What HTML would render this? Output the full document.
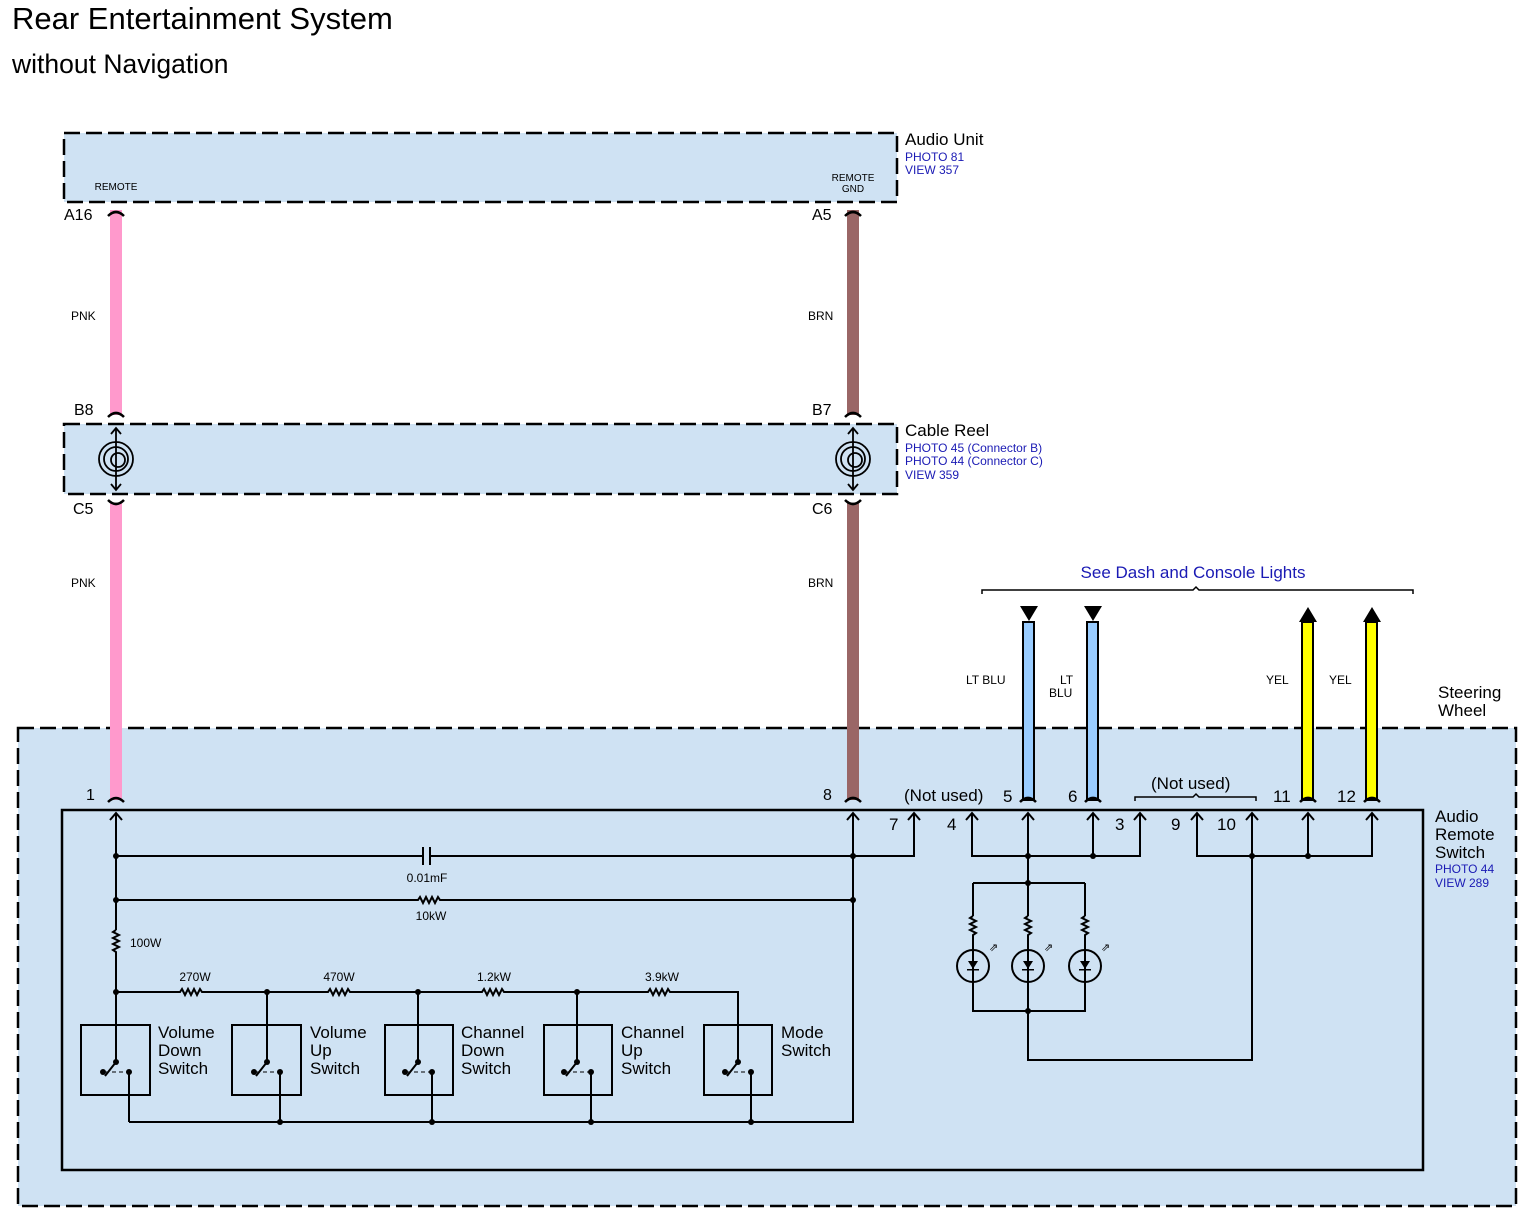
<!DOCTYPE html>
<html><head><meta charset="utf-8"><style>
html,body{margin:0;padding:0;background:#fff}
svg{display:block;font-family:"Liberation Sans",Arial,sans-serif}
</style></head><body>
<svg width="1536" height="1223" viewBox="0 0 1536 1223" xmlns="http://www.w3.org/2000/svg">
<text x="12" y="29" font-size="31" fill="#000">Rear Entertainment System</text>
<text x="12" y="73" font-size="26.5" fill="#000">without Navigation</text>

<rect x="64" y="133" width="833" height="69" fill="#cfe2f3" stroke="#000" stroke-width="2.5" stroke-dasharray="16,6"/>
<text x="905" y="145" font-size="17">Audio Unit</text>
<text x="905" y="161" font-size="12" fill="#1a1ab4">PHOTO 81</text>
<text x="905" y="174" font-size="12" fill="#1a1ab4">VIEW 357</text>
<text x="116" y="190" font-size="10" text-anchor="middle">REMOTE</text>
<text x="853" y="181" font-size="10" text-anchor="middle">REMOTE</text>
<text x="853" y="192" font-size="10" text-anchor="middle">GND</text>

<rect x="64" y="424" width="833" height="70" fill="#cfe2f3" stroke="#000" stroke-width="2.5" stroke-dasharray="16,6"/>
<text x="905" y="436" font-size="17">Cable Reel</text>
<text x="905" y="452" font-size="12" fill="#1a1ab4">PHOTO 45 (Connector B)</text>
<text x="905" y="465" font-size="12" fill="#1a1ab4">PHOTO 44 (Connector C)</text>
<text x="905" y="479" font-size="12" fill="#1a1ab4">VIEW 359</text>

<rect x="18" y="728" width="1498" height="478" fill="#cfe2f3" stroke="#000" stroke-width="2.5" stroke-dasharray="16,6"/>
<text x="1438" y="698" font-size="17">Steering</text>
<text x="1438" y="716" font-size="17">Wheel</text>
<rect x="62" y="810" width="1361" height="360" fill="none" stroke="#000" stroke-width="2.5"/>
<text x="1435" y="822" font-size="17">Audio</text>
<text x="1435" y="840" font-size="17">Remote</text>
<text x="1435" y="858" font-size="17">Switch</text>
<text x="1435" y="873" font-size="12" fill="#1a1ab4">PHOTO 44</text>
<text x="1435" y="887" font-size="12" fill="#1a1ab4">VIEW 289</text>

<g>
<rect x="110" y="210" width="12" height="205" fill="#ff99cc"/>
<rect x="110" y="503" width="12" height="297" fill="#ff99cc"/>
<rect x="847" y="210" width="12" height="205" fill="#9a6666"/>
<rect x="847" y="503" width="12" height="297" fill="#9a6666"/>
</g>
<g fill="none" stroke="#000" stroke-width="2.5">
<path d="M108 216 Q116 208 124 216"/><path d="M845 216 Q853 208 861 216"/>
<path d="M108 417 Q116 409 124 417"/><path d="M845 417 Q853 409 861 417"/>
<path d="M108 500 Q116 508 124 500"/><path d="M845 500 Q853 508 861 500"/>
<path d="M108 802 Q116 794 124 802"/><path d="M845 802 Q853 794 861 802"/>
</g>
<g font-size="16">
<text x="64" y="220">A16</text><text x="812" y="220">A5</text>
<text x="74" y="415">B8</text><text x="812" y="415">B7</text>
<text x="73" y="514">C5</text><text x="812" y="514">C6</text>
<text x="86" y="800">1</text><text x="823" y="800">8</text>
</g>
<g font-size="12">
<text x="71" y="320">PNK</text><text x="808" y="320">BRN</text>
<text x="71" y="587">PNK</text><text x="808" y="587">BRN</text>
</g>

<g fill="none" stroke="#000" stroke-width="1.8">
<line x1="116" y1="428" x2="116" y2="490"/><path d="M111 434 L116 428 L121 434 M111 484 L116 490 L121 484"/>
<circle cx="116" cy="459" r="17"/><circle cx="116" cy="459" r="12"/><circle cx="118" cy="460" r="7"/>
<line x1="853" y1="428" x2="853" y2="490"/><path d="M848 434 L853 428 L858 434 M848 484 L853 490 L858 484"/>
<circle cx="853" cy="459" r="17"/><circle cx="853" cy="459" r="12"/><circle cx="855" cy="460" r="7"/>
</g>

<rect x="1023" y="622" width="11" height="178" fill="#99ccff" stroke="#000" stroke-width="2"/>
<rect x="1087" y="622" width="11" height="178" fill="#99ccff" stroke="#000" stroke-width="2"/>
<rect x="1302" y="622" width="11" height="178" fill="#ffff00" stroke="#000" stroke-width="2"/>
<rect x="1366" y="622" width="11" height="178" fill="#ffff00" stroke="#000" stroke-width="2"/>
<path d="M1020 606 L1038 606 L1029 621Z M1084 606 L1102 606 L1093 621Z M1299 622 L1317 622 L1308 607Z M1363 622 L1381 622 L1372 607Z" fill="#000"/>
<g fill="none" stroke="#000" stroke-width="2.5">
<path d="M1020 802 Q1028 794 1036 802"/><path d="M1085 802 Q1093 794 1101 802"/>
<path d="M1300 802 Q1308 794 1316 802"/><path d="M1364 802 Q1372 794 1380 802"/>
</g>
<g fill="none" stroke="#000" stroke-width="1.5">
<path d="M982 594 L982 590 L1193 590 L1196 587 L1199 590 L1413 590 L1413 594"/>
<path d="M1135 801 L1135 797 L1193 797 L1196 794 L1199 797 L1256 797 L1256 801"/>
</g>
<text x="1193" y="578" font-size="17" fill="#1a1ab4" text-anchor="middle">See Dash and Console Lights</text>
<g font-size="12">
<text x="966" y="684">LT BLU</text><text x="1060" y="684">LT</text><text x="1049" y="697">BLU</text>
<text x="1266" y="684">YEL</text><text x="1329" y="684">YEL</text>
</g>
<g font-size="17">
<text x="904" y="801">(Not used)</text><text x="1151" y="789">(Not used)</text>
<text x="1003" y="802">5</text><text x="1068" y="802">6</text><text x="1273" y="802">11</text><text x="1337" y="802">12</text>
<text x="889" y="830">7</text><text x="947" y="830">4</text><text x="1115" y="830">3</text><text x="1171" y="830">9</text><text x="1217" y="830">10</text>
</g>

<g fill="none" stroke="#000" stroke-width="2">
<path d="M110 820 L116 813 L122 820 M847 820 L853 813 L859 820 M908 820 L914 813 L920 820 M966 820 L972 813 L978 820 M1022 820 L1028 813 L1034 820 M1087 820 L1093 813 L1099 820 M1134 820 L1140 813 L1146 820 M1191 820 L1197 813 L1203 820 M1246 820 L1252 813 L1258 820 M1302 820 L1308 813 L1314 820 M1366 820 L1372 813 L1378 820"/>
<path d="M116 813 L116 930 M116 954 L116 1062"/>
<path d="M116 930 l-3 2 l6 3 l-6 3 l6 3 l-6 3 l6 3 l-6 3 l3 2 L116 954"/>
<path d="M116 856 L423 856 M430 856 L914 856 L914 813"/>
<path d="M423 847 L423 865 M430 847 L430 865"/>
<path d="M116 900 L418 900 l2 -3 l3 6 l3 -6 l3 6 l3 -6 l3 6 l3 -6 l2 3 L853 900"/>
<path d="M853 813 L853 1122 L129 1122"/>
<path d="M116 992 L180 992 l2 -3 l3 6 l3 -6 l3 6 l3 -6 l3 6 l3 -6 l2 3 L328 992 l2 -3 l3 6 l3 -6 l3 6 l3 -6 l3 6 l3 -6 l2 3 L482 992 l2 -3 l3 6 l3 -6 l3 6 l3 -6 l3 6 l3 -6 l2 3 L648 992 l2 -3 l3 6 l3 -6 l3 6 l3 -6 l3 6 l3 -6 l2 3 L738 992 L738 1062"/>
<path d="M267 992 L267 1062 M418 992 L418 1062 M577 992 L577 1062"/>
<rect x="81" y="1025" width="69" height="70"/><rect x="232" y="1025" width="69" height="70"/><rect x="385" y="1025" width="68" height="70"/><rect x="544" y="1025" width="68" height="70"/><rect x="704" y="1025" width="68" height="70"/>
<path d="M116 1062 L105 1076 M267 1062 L256 1076 M418 1062 L407 1076 M577 1062 L566 1076 M738 1062 L727 1076"/>
<path d="M129 1072 L129 1122 M280 1072 L280 1122 M432 1072 L432 1122 M591 1072 L591 1122 M751 1072 L751 1122"/>
<path d="M972 813 L972 856 L1140 856 L1140 813 M1028 813 L1028 856 M1093 813 L1093 856"/>
<path d="M1028 856 L1028 883 M973 883 L1085 883 M973 883 L973 916 M1028 883 L1028 916 M1085 883 L1085 916"/>
<path d="M973 916 l-3 2 l6 3 l-6 3 l6 3 l-6 3 l6 3 l-3 2 L973 950 M1028 916 l-3 2 l6 3 l-6 3 l6 3 l-6 3 l6 3 l-3 2 L1028 950 M1085 916 l-3 2 l6 3 l-6 3 l6 3 l-6 3 l6 3 l-3 2 L1085 950"/>
<circle cx="973" cy="966" r="16"/><circle cx="1028" cy="966" r="16"/><circle cx="1085" cy="966" r="16"/>
<path d="M973 950 L973 1011 L1085 1011 L1085 950 M1028 950 L1028 1060 L1252 1060 L1252 813"/>
<path d="M1197 813 L1197 856 L1372 856 L1372 813 M1308 813 L1308 856"/>
</g>
<g fill="none" stroke="#000" stroke-width="1" stroke-dasharray="4,3">
<path d="M105 1072 L129 1072 M256 1072 L280 1072 M407 1072 L432 1072 M566 1072 L591 1072 M727 1072 L751 1072"/>
</g>
<g fill="#000">
<path d="M968 961 L978 961 L973 969Z M1023 961 L1033 961 L1028 969Z M1080 961 L1090 961 L1085 969Z"/>
<rect x="967" y="969" width="12" height="1.5"/><rect x="1022" y="969" width="12" height="1.5"/><rect x="1079" y="969" width="12" height="1.5"/>
<circle cx="116" cy="856" r="3"/><circle cx="116" cy="900" r="3"/><circle cx="853" cy="856" r="3"/><circle cx="853" cy="900" r="3"/>
<circle cx="116" cy="992" r="3"/><circle cx="267" cy="992" r="3"/><circle cx="418" cy="992" r="3"/><circle cx="577" cy="992" r="3"/>
<circle cx="116" cy="1062" r="3"/><circle cx="267" cy="1062" r="3"/><circle cx="418" cy="1062" r="3"/><circle cx="577" cy="1062" r="3"/><circle cx="738" cy="1062" r="3"/>
<circle cx="103" cy="1072" r="3"/><circle cx="129" cy="1072" r="3"/><circle cx="254" cy="1072" r="3"/><circle cx="280" cy="1072" r="3"/><circle cx="405" cy="1072" r="3"/><circle cx="432" cy="1072" r="3"/><circle cx="564" cy="1072" r="3"/><circle cx="591" cy="1072" r="3"/><circle cx="725" cy="1072" r="3"/><circle cx="751" cy="1072" r="3"/>
<circle cx="280" cy="1122" r="3"/><circle cx="432" cy="1122" r="3"/><circle cx="591" cy="1122" r="3"/><circle cx="751" cy="1122" r="3"/>
<circle cx="1028" cy="856" r="3"/><circle cx="1093" cy="856" r="3"/><circle cx="1028" cy="883" r="3"/><circle cx="1028" cy="1011" r="3"/>
<circle cx="1252" cy="856" r="3"/><circle cx="1308" cy="856" r="3"/>
</g>
<g font-size="11" fill="#000">
<text x="989" y="951">⇗</text><text x="1044" y="951">⇗</text><text x="1101" y="951">⇗</text>
</g>
<g font-size="12">
<text x="427" y="882" text-anchor="middle">0.01mF</text>
<text x="431" y="920" text-anchor="middle">10kW</text>
<text x="130" y="947">100W</text>
<text x="195" y="981" text-anchor="middle">270W</text>
<text x="339" y="981" text-anchor="middle">470W</text>
<text x="494" y="981" text-anchor="middle">1.2kW</text>
<text x="662" y="981" text-anchor="middle">3.9kW</text>
</g>
<g font-size="17">
<text x="158" y="1038">Volume</text><text x="158" y="1056">Down</text><text x="158" y="1074">Switch</text>
<text x="310" y="1038">Volume</text><text x="310" y="1056">Up</text><text x="310" y="1074">Switch</text>
<text x="461" y="1038">Channel</text><text x="461" y="1056">Down</text><text x="461" y="1074">Switch</text>
<text x="621" y="1038">Channel</text><text x="621" y="1056">Up</text><text x="621" y="1074">Switch</text>
<text x="781" y="1038">Mode</text><text x="781" y="1056">Switch</text>
</g>
</svg>
</body></html>
